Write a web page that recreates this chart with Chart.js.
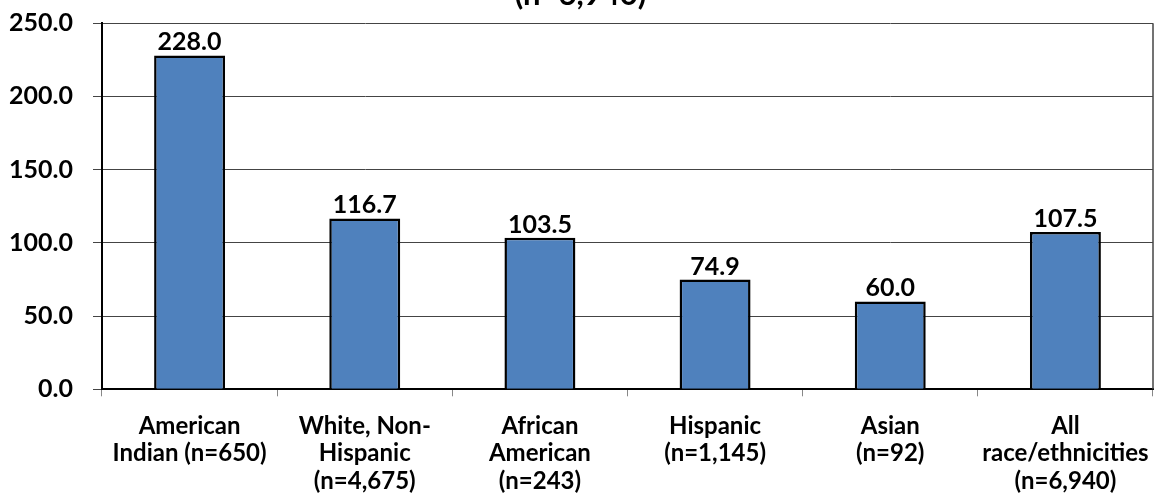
<!DOCTYPE html>
<html>
<head>
<meta charset="utf-8">
<title>Rate by race/ethnicity</title>
<script src="https://cdn.jsdelivr.net/npm/chart.js@4.4.1/dist/chart.umd.min.js"></script>
<style>
  html, body { margin: 0; padding: 0; background: #fff; }
  #wrap { position: relative; width: 1158px; height: 500px; overflow: hidden; }
  #chart { display: block; position: absolute; left: 0; top: -40px; }
</style>
</head>
<body>
<div id="wrap">
  <canvas id="chart" width="1158" height="540"></canvas>
</div>
<script>
// Chart data
const categories = [
  ['American', 'Indian (n=650)'],
  ['White, Non-', 'Hispanic', '(n=4,675)'],
  ['African', 'American', '(n=243)'],
  ['Hispanic', '(n=1,145)'],
  ['Asian', '(n=92)'],
  ['All', 'race/ethnicities', '(n=6,940)']
];
const rates = [228.0, 116.7, 103.5, 74.9, 60.0, 107.5];
const yTickValues = [0, 50, 100, 150, 200, 250];
const titleText = '(n=6,940)';

const FONT = 'Lato, "Open Sans", "DejaVu Sans", sans-serif';
Chart.defaults.font.family = FONT;
Chart.defaults.color = '#000';

// Value labels above bars + right border of the plot area
const barLabels = {
  id: 'barLabels',
  afterDatasetsDraw(chart) {
    const ctx = chart.ctx;
    const area = chart.chartArea;
    ctx.save();
    // plot area right border
    ctx.strokeStyle = '#444';
    ctx.lineWidth = 1.5;
    ctx.beginPath();
    ctx.moveTo(area.right, area.top);
    ctx.lineTo(area.right, area.bottom);
    ctx.stroke();
    // value labels
    ctx.fillStyle = '#000';
    ctx.font = 'bold 25px ' + FONT;
    ctx.textAlign = 'center';
    ctx.textBaseline = 'alphabetic';
    chart.getDatasetMeta(0).data.forEach((bar, i) => {
      ctx.fillText(rates[i].toFixed(1), bar.x, bar.y - 5);
    });
    ctx.restore();
  }
};

new Chart(document.getElementById('chart'), {
  type: 'bar',
  data: {
    labels: categories,
    datasets: [{
      data: rates,
      backgroundColor: '#4F81BD',
      borderColor: '#000',
      borderWidth: 2.5,
      categoryPercentage: 1,
      barPercentage: 0.405
    }]
  },
  options: {
    responsive: false,
    animation: false,
    devicePixelRatio: 1,
    layout: {
      padding: { left: 8, right: 5, top: 0, bottom: 2 }
    },
    plugins: {
      legend: { display: false },
      tooltip: { enabled: false },
      title: {
        display: true,
        text: titleText,
        font: { size: 31, weight: 'bold', lineHeight: 1.2 },
        color: '#000',
        padding: { top: 16, bottom: 10 }
      }
    },
    scales: {
      x: {
        afterFit(scale) {
          scale.height = 108.7;
          scale.paddingLeft = 0;
          scale.paddingRight = 0;
        },
        grid: {
          offset: true,
          drawOnChartArea: false,
          drawTicks: true,
          tickLength: 7,
          color: '#888'
        },
        border: { color: '#000', width: 2 },
        ticks: {
          autoSkip: false,
          maxRotation: 0,
          minRotation: 0,
          padding: 16,
          font: { size: 24, weight: 'bold', lineHeight: 1.15 },
          color: '#000'
        }
      },
      y: {
        min: 0,
        max: 250,
        afterBuildTicks(scale) {
          scale.ticks = yTickValues.map(v => ({ value: v }));
        },
        afterFit(scale) {
          scale.width = 94;
          scale.paddingTop = 0;
          scale.paddingBottom = 0;
        },
        grid: {
          color: '#444',
          lineWidth: 1,
          tickLength: 9
        },
        border: { color: '#000', width: 2 },
        ticks: {
          padding: 20,
          font: { size: 25, weight: 'bold' },
          color: '#000',
          callback: v => v.toFixed(1)
        }
      }
    }
  },
  plugins: [barLabels]
});
</script>
</body>
</html>
